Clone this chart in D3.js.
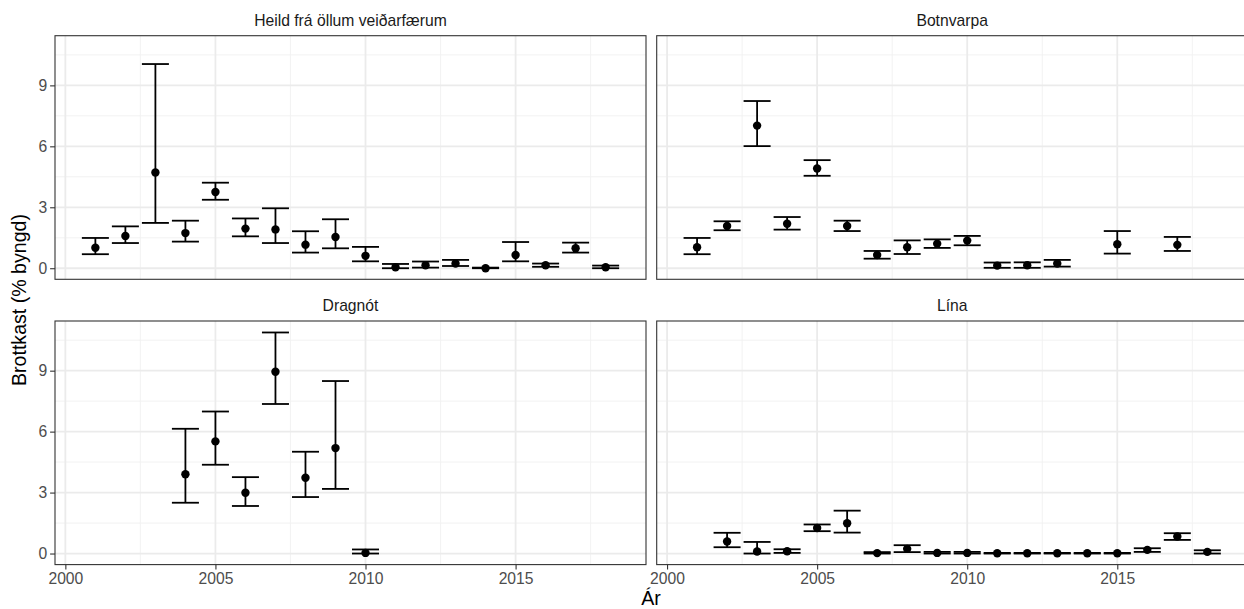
<!DOCTYPE html>
<html>
<head>
<meta charset="utf-8">
<script src="https://cdn.jsdelivr.net/npm/d3@7"></script>
<style>
  body { margin: 0; background: #fff; }
  text { font-family: "Liberation Sans", Arial, sans-serif; }
</style>
</head>
<body>
<svg id="chart" width="1244" height="609"></svg>
<script>
// years on the x axis
var years = [2001, 2002, 2003, 2004, 2005, 2006, 2007, 2008, 2009, 2010,
             2011, 2012, 2013, 2014, 2015, 2016, 2017, 2018];

var panelTitles = ["Heild frá öllum veiðarfærum", "Botnvarpa", "Dragnót", "Lína"];

// estimate, lower and upper limit per year (null = no data)
var heildMean  = [1.01, 1.59, 4.71, 1.73, 3.75, 1.95, 1.91, 1.16, 1.54, 0.61, 0.05, 0.15, 0.23, 0.00, 0.65, 0.15, 0.98, 0.05];
var heildLower = [0.69, 1.24, 2.23, 1.31, 3.37, 1.57, 1.24, 0.77, 0.98, 0.34, 0.00, 0.03, 0.11, 0.00, 0.34, 0.07, 0.77, 0.00];
var heildUpper = [1.49, 2.06, 10.05, 2.34, 4.21, 2.45, 2.95, 1.82, 2.41, 1.05, 0.21, 0.33, 0.41, 0.03, 1.29, 0.23, 1.26, 0.13];

var botnMean  = [1.03, 2.08, 7.02, 2.19, 4.91, 2.08, 0.65, 1.03, 1.21, 1.36, 0.13, 0.15, 0.23, null, 1.18, null, 1.15, null];
var botnLower = [0.69, 1.87, 6.01, 1.90, 4.55, 1.83, 0.47, 0.70, 1.00, 1.13, 0.02, 0.02, 0.08, null, 0.72, null, 0.85, null];
var botnUpper = [1.49, 2.31, 8.23, 2.52, 5.32, 2.34, 0.85, 1.37, 1.42, 1.59, 0.28, 0.29, 0.41, null, 1.83, null, 1.54, null];

var dragMean  = [null, null, null, 3.90, 5.52, 2.99, 8.95, 3.73, 5.19, 0.03, null, null, null, null, null, null, null, null];
var dragLower = [null, null, null, 2.50, 4.37, 2.34, 7.36, 2.78, 3.18, 0.00, null, null, null, null, null, null, null, null];
var dragUpper = [null, null, null, 6.14, 6.99, 3.76, 10.88, 5.01, 8.49, 0.20, null, null, null, null, null, null, null, null];

var linaMean  = [null, 0.59, 0.10, 0.11, 1.26, 1.49, 0.02, 0.23, 0.03, 0.03, 0.01, 0.01, 0.01, 0.01, 0.01, 0.18, 0.84, 0.08];
var linaLower = [null, 0.31, 0.00, 0.03, 1.10, 1.03, 0.00, 0.07, 0.00, 0.00, 0.00, 0.00, 0.00, 0.00, 0.00, 0.08, 0.67, 0.00];
var linaUpper = [null, 1.02, 0.57, 0.21, 1.43, 2.11, 0.07, 0.41, 0.08, 0.08, 0.03, 0.03, 0.03, 0.03, 0.03, 0.26, 1.00, 0.16];

var xTicks = [2000, 2005, 2010, 2015];
var xMinor = [2002.5, 2007.5, 2012.5, 2017.5];
var yTicks = [0, 3, 6, 9];
var yMinor = [1.5, 4.5, 7.5, 10.5];

var panelData = [
  [heildMean, heildLower, heildUpper],
  [botnMean, botnLower, botnUpper],
  [dragMean, dragLower, dragUpper],
  [linaMean, linaLower, linaUpper]
];

var svg = d3.select("#chart");

var colX = [55, 656.7];
var rowY = [35.7, 321];
var pw = 591, ph = 243.6;
var barHalf = 0.45;

var x = d3.scaleLinear().domain([1999.655, 2019.345]).range([0, pw]);
var y = d3.scaleLinear().domain([-0.545, 11.445]).range([ph, 0]);

panelData.forEach(function (series, p) {
  var col = p % 2, row = Math.floor(p / 2);
  var g = svg.append("g").attr("transform", "translate(" + colX[col] + "," + rowY[row] + ")");

  // grid
  g.selectAll(".ymin").data(yMinor).enter().append("line")
    .attr("x1", 0).attr("x2", pw).attr("y1", y).attr("y2", y)
    .attr("stroke", "#f1f1f1").attr("stroke-width", 0.9);
  g.selectAll(".xmin").data(xMinor).enter().append("line")
    .attr("y1", 0).attr("y2", ph).attr("x1", x).attr("x2", x)
    .attr("stroke", "#f1f1f1").attr("stroke-width", 0.9);
  g.selectAll(".ymaj").data(yTicks).enter().append("line")
    .attr("x1", 0).attr("x2", pw).attr("y1", y).attr("y2", y)
    .attr("stroke", "#ebebeb").attr("stroke-width", 1.8);
  g.selectAll(".xmaj").data(xTicks).enter().append("line")
    .attr("y1", 0).attr("y2", ph).attr("x1", x).attr("x2", x)
    .attr("stroke", "#ebebeb").attr("stroke-width", 1.8);

  var rows = years.map(function (yr, i) {
    return { year: yr, m: series[0][i], lo: series[1][i], hi: series[2][i] };
  }).filter(function (d) { return d.m !== null; });

  var eb = g.append("g").attr("stroke", "#000").attr("stroke-width", 1.8);
  eb.selectAll(".v").data(rows).enter().append("line")
    .attr("x1", function (d) { return x(d.year); })
    .attr("x2", function (d) { return x(d.year); })
    .attr("y1", function (d) { return y(d.lo); })
    .attr("y2", function (d) { return y(d.hi); });
  eb.selectAll(".t").data(rows).enter().append("line")
    .attr("x1", function (d) { return x(d.year - barHalf); })
    .attr("x2", function (d) { return x(d.year + barHalf); })
    .attr("y1", function (d) { return y(d.hi); })
    .attr("y2", function (d) { return y(d.hi); });
  eb.selectAll(".b").data(rows).enter().append("line")
    .attr("x1", function (d) { return x(d.year - barHalf); })
    .attr("x2", function (d) { return x(d.year + barHalf); })
    .attr("y1", function (d) { return y(d.lo); })
    .attr("y2", function (d) { return y(d.lo); });
  g.selectAll("circle").data(rows).enter().append("circle")
    .attr("cx", function (d) { return x(d.year); })
    .attr("cy", function (d) { return y(d.m); })
    .attr("r", 4.2).attr("fill", "#000");

  // border
  g.append("rect").attr("width", pw).attr("height", ph)
    .attr("fill", "none").attr("stroke", "#333").attr("stroke-width", 1.1);

  // strip title
  g.append("text").attr("x", pw / 2).attr("y", -10)
    .attr("text-anchor", "middle").attr("font-size", 15.7).attr("fill", "#1a1a1a")
    .text(panelTitles[p]);

  if (col === 0) {
    var ya = g.append("g").call(d3.axisLeft(y).tickValues(yTicks).tickSize(4.9).tickPadding(3));
    ya.select(".domain").remove();
    ya.selectAll("line").attr("stroke", "#333").attr("stroke-width", 1.1);
    ya.selectAll("text").attr("font-size", 15.7).attr("fill", "#4d4d4d")
      .style("font-family", "Liberation Sans, Arial, sans-serif");
  }
  if (row === 1) {
    var xa = g.append("g").attr("transform", "translate(0," + ph + ")")
      .call(d3.axisBottom(x).tickValues(xTicks).tickFormat(d3.format("d")).tickSize(4.9).tickPadding(3));
    xa.select(".domain").remove();
    xa.selectAll("line").attr("stroke", "#333").attr("stroke-width", 1.1);
    xa.selectAll("text").attr("font-size", 15.7).attr("fill", "#4d4d4d")
      .style("font-family", "Liberation Sans, Arial, sans-serif");
  }
});

svg.append("text").attr("x", 651).attr("y", 605).attr("text-anchor", "middle")
  .attr("font-size", 19.6).attr("fill", "#000").text("Ár");
svg.append("text").attr("transform", "translate(26,300) rotate(-90)")
  .attr("text-anchor", "middle").attr("font-size", 19.6).attr("fill", "#000")
  .text("Brottkast (% byngd)");
</script>
</body>
</html>
